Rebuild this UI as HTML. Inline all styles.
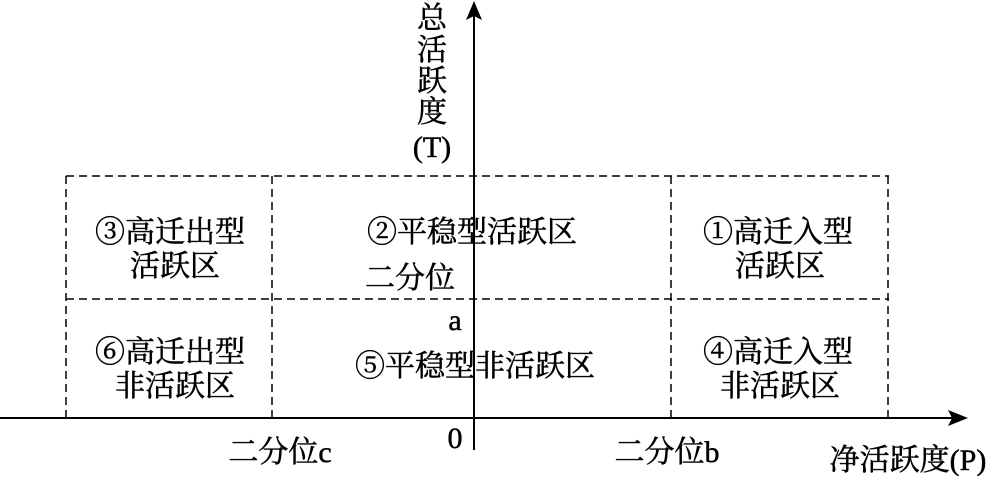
<!DOCTYPE html>
<html><head><meta charset="utf-8"><style>
html,body{margin:0;padding:0;background:#fff}
svg text{font-family:"Liberation Serif","Noto Serif CJK SC",serif;font-size:30px;fill:#000;stroke:#000;stroke-width:0.5}
</style></head><body>
<svg width="1000" height="476" viewBox="0 0 1000 476" xmlns="http://www.w3.org/2000/svg">
<g stroke="#000" stroke-width="1.5" stroke-dasharray="8,5" fill="none">
<line x1="66" y1="176" x2="889" y2="176"/>
<line x1="66" y1="299" x2="889" y2="299"/>
<line x1="66" y1="176" x2="66" y2="417"/>
<line x1="272" y1="176" x2="272" y2="417"/>
<line x1="671" y1="176" x2="671" y2="417"/>
<line x1="888" y1="176" x2="888" y2="417"/>
</g>
<line x1="0" y1="418" x2="952" y2="418" stroke="#000" stroke-width="2"/>
<polygon points="968,418 948,410 952,418 948,426" fill="#000"/>
<line x1="474" y1="450" x2="474" y2="16" stroke="#000" stroke-width="2"/>
<polygon points="474,1 466,20 474,16 482,20" fill="#000"/>
<g text-anchor="middle">
<text x="432" y="28">总</text>
<text x="432" y="60">活</text>
<text x="432" y="91">跃</text>
<text x="432" y="122">度</text>
<text x="432" y="157">(T)</text>
<text x="170" y="242">③高迁出型</text>
<text x="175" y="276">活跃区</text>
<text x="472" y="242">②平稳型活跃区</text>
<text x="410" y="288">二分位</text>
<text x="455" y="330">a</text>
<text x="778" y="242">①高迁入型</text>
<text x="780" y="276">活跃区</text>
<text x="170" y="362">⑥高迁出型</text>
<text x="175" y="396">非活跃区</text>
<text x="475" y="376">⑤平稳型非活跃区</text>
<text x="778" y="362">④高迁入型</text>
<text x="780" y="396">非活跃区</text>
<text x="280" y="462">二分位c</text>
<text x="455" y="448">0</text>
<text x="667" y="462">二分位b</text>
<text x="908" y="470">净活跃度(P)</text>
</g>
</svg>
</body></html>
